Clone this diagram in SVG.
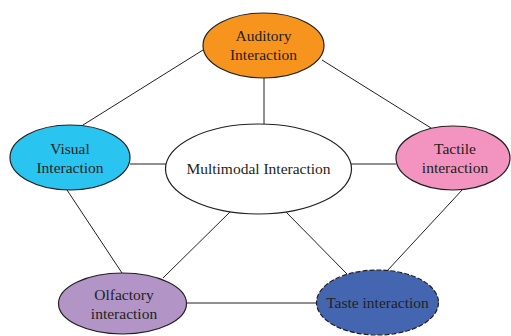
<svg xmlns="http://www.w3.org/2000/svg" width="511" height="336" viewBox="0 0 511 336">
  <style>
    .edge { stroke: #231f20; stroke-width: 1; fill: none; }
    .node { stroke: #231f20; stroke-width: 1.2; }
    .label { font-family: "Liberation Serif", "Times New Roman", serif; font-size: 15.5px; fill: #231f20; text-anchor: middle; }
  </style>
  <rect width="511" height="336" fill="#ffffff"/>
  <g id="connectors">
    <line class="edge" x1="203" y1="50" x2="83" y2="125"/>
    <line class="edge" x1="322" y1="60" x2="431" y2="128"/>
    <line class="edge" x1="264" y1="77" x2="264" y2="124"/>
    <line class="edge" x1="130" y1="164" x2="166" y2="164"/>
    <line class="edge" x1="351" y1="164" x2="396" y2="164"/>
    <line class="edge" x1="67" y1="190" x2="122" y2="273"/>
    <line class="edge" x1="232" y1="210" x2="163" y2="278"/>
    <line class="edge" x1="286" y1="212" x2="347" y2="274"/>
    <line class="edge" x1="463" y1="189" x2="387" y2="271"/>
    <line class="edge" x1="186" y1="303" x2="317" y2="303"/>
  </g>
  <g id="auditory">
    <ellipse class="node" cx="263.5" cy="45.5" rx="60.5" ry="32.5" fill="#f7941d"/>
    <text class="label" x="263.5" y="41">Auditory</text>
    <text class="label" x="263.5" y="60">Interaction</text>
  </g>
  <g id="visual">
    <ellipse class="node" cx="70" cy="157.5" rx="60" ry="32.5" fill="#29c4f0"/>
    <text class="label" x="70" y="154">Visual</text>
    <text class="label" x="70" y="173">Interaction</text>
  </g>
  <g id="multimodal">
    <ellipse class="node" cx="258.5" cy="169" rx="93" ry="45" fill="#ffffff"/>
    <text class="label" x="258.5" y="174">Multimodal Interaction</text>
  </g>
  <g id="tactile">
    <ellipse class="node" cx="453" cy="158" rx="57" ry="32" fill="#f293c0"/>
    <text class="label" x="455" y="154">Tactile</text>
    <text class="label" x="455" y="173">interaction</text>
  </g>
  <g id="olfactory">
    <ellipse class="node" cx="122.5" cy="303.5" rx="64" ry="30.5" fill="#b294c7"/>
    <text class="label" x="124" y="300">Olfactory</text>
    <text class="label" x="124" y="319">interaction</text>
  </g>
  <g id="taste">
    <ellipse class="node" cx="377.5" cy="302.5" rx="61" ry="32.5" fill="#4466b0" stroke-dasharray="5 2"/>
    <text class="label" x="377.5" y="308">Taste interaction</text>
  </g>
</svg>
